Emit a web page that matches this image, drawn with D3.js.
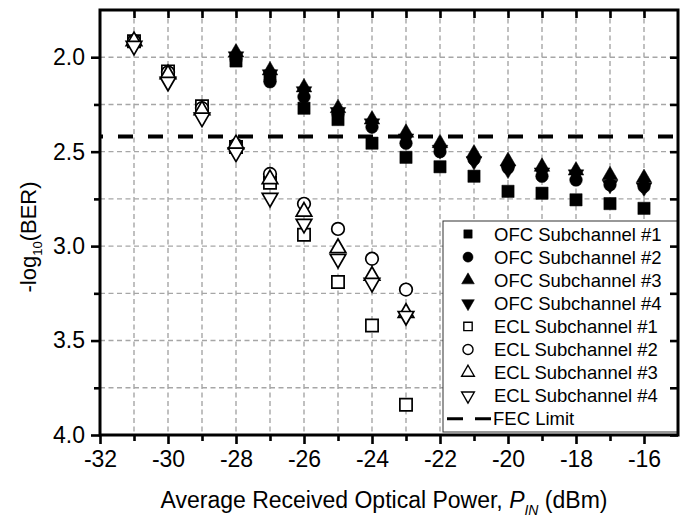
<!DOCTYPE html>
<html>
<head>
<meta charset="utf-8">
<script src="https://cdn.jsdelivr.net/npm/d3@7"></script>
<style>
  body { margin: 0; background: #fff; }
  text { font-family: "Liberation Sans", Arial, sans-serif; fill: #000; }
</style>
</head>
<body>
<div id="container"><svg></svg></div>
<script>
// received power (dBm)
const powerOFC = [-28, -27, -26, -25, -24, -23, -22, -21, -20, -19, -18, -17, -16]
const powerECL = [-31, -30, -29, -28, -27, -26, -25, -24, -23]

// -log10(BER)
const ofc1 = [2.02, 2.10, 2.27, 2.33, 2.455, 2.53, 2.58, 2.63, 2.71, 2.72, 2.755, 2.775, 2.80]
const ofc2 = [2.01, 2.13, 2.21, 2.30, 2.37, 2.455, 2.50, 2.54, 2.585, 2.63, 2.65, 2.675, 2.685]
const ofc3 = [1.975, 2.07, 2.16, 2.27, 2.33, 2.40, 2.455, 2.51, 2.55, 2.58, 2.60, 2.625, 2.64]
const ofc4 = [1.995, 2.09, 2.18, 2.29, 2.35, 2.43, 2.49, 2.55, 2.595, 2.61, 2.62, 2.675, 2.69]

const ecl1 = [1.915, 2.075, 2.26, 2.475, 2.665, 2.94, 3.19, 3.42, 3.84]
const ecl2 = [1.915, 2.08, 2.27, 2.465, 2.618, 2.776, 2.909, 3.067, 3.23]
const ecl3 = [1.915, 2.09, 2.28, 2.46, 2.645, 2.817, 3.01, 3.157, 3.353]
const ecl4 = [1.94, 2.13, 2.32, 2.505, 2.745, 2.882, 3.068, 3.195, 3.37]

const fecLimit = 2.42

const xTicksMajor = [-32, -30, -28, -26, -24, -22, -20, -18, -16]
const yTicksMajor = [2.0, 2.5, 3.0, 3.5, 4.0]

const seriesNames = ["OFC Subchannel #1", "OFC Subchannel #2", "OFC Subchannel #3", "OFC Subchannel #4",
    "ECL Subchannel #1", "ECL Subchannel #2", "ECL Subchannel #3", "ECL Subchannel #4"]


let svgWidth = 688
let svgHeight = 519
let margin = { left: 100, top: 10, right: 10, bottom: 84 }
let chartWidth = svgWidth - margin.left - margin.right
let chartHeight = svgHeight - margin.top - margin.bottom

const svg = d3.select("svg")
    .attr("width", svgWidth)
    .attr("height", svgHeight)

var x = d3.scaleLinear().domain([-32, -15]).range([0, chartWidth])
var y = d3.scaleLinear().domain([1.75, 4.0]).range([0, chartHeight])

const g = svg.append("g").attr("transform", `translate(${margin.left}, ${margin.top})`)

var xGrid = d3.range(-31, -15, 1)
var yGrid = d3.range(2.0, 4.0, 0.25)

// grid (dashed grey)
var grid = g.append("g").attr("id", "grid")
grid.selectAll(".vgrid")
    .data(xGrid)
    .enter()
    .append("line")
    .attr("class", "vgrid")
    .attr("x1", d => x(d)).attr("x2", d => x(d))
    .attr("y1", 0).attr("y2", chartHeight)
grid.selectAll(".hgrid")
    .data(yGrid)
    .enter()
    .append("line")
    .attr("class", "hgrid")
    .attr("x1", 0).attr("x2", chartWidth)
    .attr("y1", d => y(d)).attr("y2", d => y(d))
grid.selectAll("line")
    .attr("stroke", "#a6a6a6")
    .attr("stroke-width", 1.4)
    .attr("stroke-dasharray", "5,3.5")

// FEC limit
g.append("line")
    .attr("x1", x(-32)).attr("x2", x(-15))
    .attr("y1", y(fecLimit)).attr("y2", y(fecLimit))
    .attr("stroke", "#000")
    .attr("stroke-width", 4)
    .attr("stroke-dasharray", "15,15")
    .attr("stroke-dashoffset", 12)

// markers
const shapes = [d3.symbolSquare, d3.symbolCircle, d3.symbolTriangle, d3.symbolTriangle]
const sizes = [150, 125, 105, 105]

function drawSeries(xs, ys, i, filled) {
    var k = i % 4
    g.append("g")
        .selectAll("path")
        .data(ys.map((v, j) => ({ p: xs[j], v: v })))
        .enter()
        .append("path")
        .attr("d", d3.symbol().type(shapes[k]).size(sizes[k]))
        .attr("transform", d => `translate(${x(d.p)}, ${y(d.v)})` + (k == 3 ? " rotate(180)" : ""))
        .attr("fill", filled ? "#000" : "#fff")
        .attr("stroke", "#000")
        .attr("stroke-width", filled ? 0.5 : 1.7)
}

drawSeries(powerOFC, ofc1, 0, true)
drawSeries(powerOFC, ofc2, 1, true)
drawSeries(powerOFC, ofc3, 2, true)
drawSeries(powerOFC, ofc4, 3, true)
drawSeries(powerECL, ecl1, 4, false)
drawSeries(powerECL, ecl2, 5, false)
drawSeries(powerECL, ecl3, 6, false)
drawSeries(powerECL, ecl4, 7, false)

// legend
var legendX = 443 - margin.left
var legendY = 221 - margin.top
var legend = g.append("g").attr("transform", `translate(${legendX}, ${legendY})`)
legend.append("rect")
    .attr("width", chartWidth - legendX)
    .attr("height", 211)
    .attr("fill", "#fff")
    .attr("stroke", "#333")
    .attr("stroke-width", 1)

var rowH = 23.1
var legendSizes = [70, 80, 70, 70]
seriesNames.forEach((name, i) => {
    var k = i % 4
    var cy = 13 + i * rowH
    legend.append("path")
        .attr("d", d3.symbol().type(shapes[k]).size(legendSizes[k]))
        .attr("transform", `translate(25, ${cy})` + (k == 3 ? " rotate(180)" : ""))
        .attr("fill", i < 4 ? "#000" : "#fff")
        .attr("stroke", "#000")
        .attr("stroke-width", i < 4 ? 0.5 : 1.4)
    legend.append("text")
        .attr("x", 51)
        .attr("y", cy)
        .attr("dy", "0.36em")
        .style("font-size", "18.5px")
        .text(name)
})
var fecY = 13 + 8 * rowH
legend.append("line")
    .attr("x1", 4).attr("x2", 48)
    .attr("y1", fecY).attr("y2", fecY)
    .attr("stroke", "#000")
    .attr("stroke-width", 3)
    .attr("stroke-dasharray", "16,12")
legend.append("text")
    .attr("x", 50)
    .attr("y", fecY)
    .attr("dy", "0.36em")
    .style("font-size", "18.5px")
    .text("FEC Limit")

// axes
function styleAxis(sel) {
    sel.selectAll(".domain").remove()
    sel.selectAll("line").attr("stroke", "#000").attr("stroke-width", 2.6)
    sel.selectAll("text").style("font-size", "23px").attr("fill", "#000")
}

var xMinorOnly = d3.range(-31, -15, 2)
var yMinorOnly = [2.25, 2.75, 3.25, 3.75]

var xAxisB = g.append("g").attr("transform", `translate(0, ${chartHeight})`)
xAxisB.call(d3.axisBottom(x).tickValues(xTicksMajor).tickSize(9).tickPadding(7).tickFormat(d => String(d)))
var xAxisBm = g.append("g").attr("transform", `translate(0, ${chartHeight})`)
xAxisBm.call(d3.axisBottom(x).tickValues(xMinorOnly).tickSize(6).tickFormat(""))

var yAxisL = g.append("g")
yAxisL.call(d3.axisLeft(y).tickValues(yTicksMajor).tickSize(9).tickPadding(6).tickFormat(d3.format(".1f")))
var yAxisLm = g.append("g")
yAxisLm.call(d3.axisLeft(y).tickValues(yMinorOnly).tickSize(6).tickFormat(""))

var xAxisT = g.append("g")
xAxisT.call(d3.axisTop(x).tickValues(xGrid).tickSize(-8).tickFormat(""))
var yAxisR = g.append("g").attr("transform", `translate(${chartWidth}, 0)`)
yAxisR.call(d3.axisRight(y).tickValues(yGrid.concat([4.0])).tickSize(-8).tickFormat(""))

;[xAxisB, xAxisBm, yAxisL, yAxisLm, xAxisT, yAxisR].forEach(styleAxis)
xAxisB.selectAll("text").attr("dy", "0.71em")

// frame
g.append("rect")
    .attr("width", chartWidth)
    .attr("height", chartHeight)
    .attr("fill", "none")
    .attr("stroke", "#000")
    .attr("stroke-width", 3)

// axis titles
var xTitle = svg.append("text")
    .attr("x", 384)
    .attr("y", 508)
    .attr("text-anchor", "middle")
    .style("font-size", "23px")
xTitle.append("tspan").text("Average Received Optical Power, ")
xTitle.append("tspan").style("font-style", "italic").text("P")
xTitle.append("tspan").style("font-style", "italic").style("font-size", "14px").attr("dy", 7).text("IN")
xTitle.append("tspan").attr("dy", -7).text(" (dBm)")

var yTitle = svg.append("text")
    .attr("transform", "translate(36, 237) rotate(-90)")
    .attr("text-anchor", "middle")
    .style("font-size", "22px")
yTitle.append("tspan").text("-log")
yTitle.append("tspan").style("font-size", "13px").attr("dy", 6).text("10")
yTitle.append("tspan").attr("dy", -6).text("(BER)")
</script>
</body>
</html>
